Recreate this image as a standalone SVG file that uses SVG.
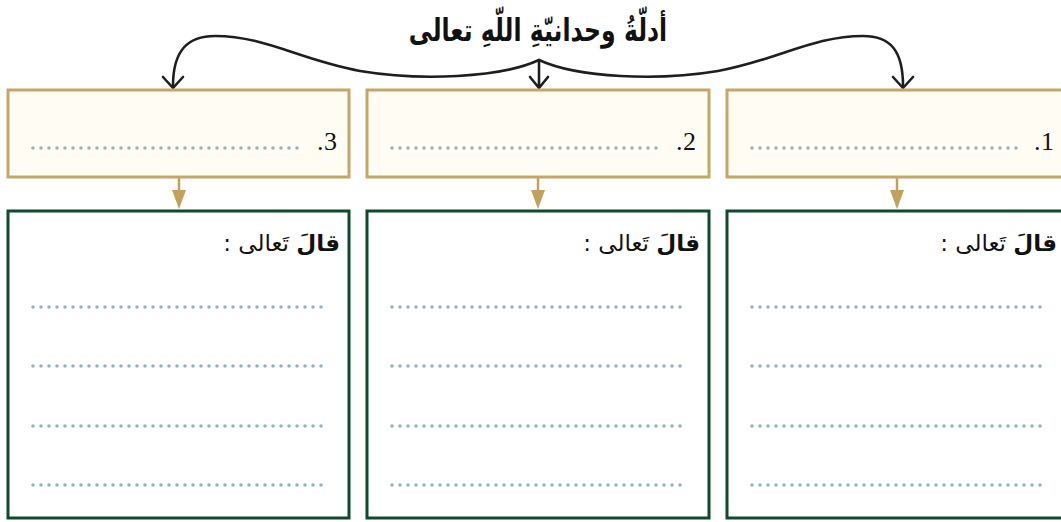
<svg xmlns="http://www.w3.org/2000/svg" width="1061" height="522" viewBox="0 0 1061 522">
<style>
.top{fill:#FFFDF3;stroke:#C6A664;stroke-width:3}
.bot{fill:#FFFFFF;stroke:#0E4A2B;stroke-width:3}
.dots{stroke:#98B2BD;stroke-width:3.6;stroke-linecap:round;stroke-dasharray:0 8;fill:none}
.num{font-family:"Liberation Serif",serif;font-size:26px;fill:#111}
.hdr{font-family:"DejaVu Sans",sans-serif;font-size:23px;fill:#111}
.title{font-family:"DejaVu Sans",sans-serif;font-size:31px;font-weight:bold;fill:#111}
.brace{fill:none;stroke:#1E1E1E;stroke-width:2.6;stroke-linecap:round;stroke-linejoin:round}
.tan{stroke:#C2A05E;stroke-width:2.5;fill:none}
.tanhead{fill:#C2A05E}
</style>
<rect width="1061" height="522" fill="#FFFFFF"/>
<g id="title" transform="translate(538,41) scale(0.76,1)">
<text class="title" x="0" y="0" text-anchor="middle" direction="rtl">أدلّةُ وحدانيّةِ اللّهِ تعالى</text>
</g>
<g id="connectors">
<path class="brace" d="M173,86 C173,50 188,36 215,36 C265,36 300,60 360,71 C420,81 500,78 539,60 C578,78 658,81 718,71 C778,60 813,36 863,36 C890,36 903,50 903,86"/>
<path class="brace" d="M163,77 L173,88 L183,77"/>
<path class="brace" d="M893,77 L903,88 L913,77"/>
<path class="brace" d="M539,60 L539,87 M530,77 L539,88 L548,77"/>
<line class="tan" x1="179" y1="178" x2="179" y2="194"/>
<polygon class="tanhead" points="172,190 186,190 179,209"/>
<line class="tan" x1="538" y1="178" x2="538" y2="194"/>
<polygon class="tanhead" points="531,190 545,190 538,209"/>
<line class="tan" x1="897" y1="178" x2="897" y2="194"/>
<polygon class="tanhead" points="890,190 904,190 897,209"/>
</g>
<g id="top3">
<rect class="top" x="8" y="90" width="341" height="87"/>
<line class="dots" x1="33" y1="148" x2="305" y2="148"/>
<text class="num" x="317" y="150">.</text>
<text class="num" x="324" y="150">3</text>
</g>
<g id="top2">
<rect class="top" x="367" y="90" width="342" height="87"/>
<line class="dots" x1="392" y1="148" x2="664" y2="148"/>
<text class="num" x="676" y="150">.</text>
<text class="num" x="683" y="150">2</text>
</g>
<g id="top1">
<rect class="top" x="727" y="90" width="342" height="87"/>
<line class="dots" x1="752" y1="148" x2="1024" y2="148"/>
<text class="num" x="1034" y="150">.</text>
<text class="num" x="1041" y="150">1</text>
</g>
<g id="bottom3">
<rect class="bot" x="8" y="211" width="341" height="307"/>
<text class="hdr" x="340" y="251" direction="rtl" text-anchor="start"><tspan font-weight="bold">قالَ</tspan> تَعالى :</text>
<line class="dots" x1="33" y1="307" x2="326" y2="307"/>
<line class="dots" x1="33" y1="366" x2="326" y2="366"/>
<line class="dots" x1="33" y1="426" x2="326" y2="426"/>
<line class="dots" x1="33" y1="485" x2="326" y2="485"/>
</g>
<g id="bottom2">
<rect class="bot" x="367" y="211" width="342" height="307"/>
<text class="hdr" x="700" y="251" direction="rtl" text-anchor="start"><tspan font-weight="bold">قالَ</tspan> تَعالى :</text>
<line class="dots" x1="392" y1="307" x2="685" y2="307"/>
<line class="dots" x1="392" y1="366" x2="685" y2="366"/>
<line class="dots" x1="392" y1="426" x2="685" y2="426"/>
<line class="dots" x1="392" y1="485" x2="685" y2="485"/>
</g>
<g id="bottom1">
<rect class="bot" x="727" y="211" width="342" height="307"/>
<text class="hdr" x="1057" y="251" direction="rtl" text-anchor="start"><tspan font-weight="bold">قالَ</tspan> تَعالى :</text>
<line class="dots" x1="752" y1="307" x2="1045" y2="307"/>
<line class="dots" x1="752" y1="366" x2="1045" y2="366"/>
<line class="dots" x1="752" y1="426" x2="1045" y2="426"/>
<line class="dots" x1="752" y1="485" x2="1045" y2="485"/>
</g>
</svg>
